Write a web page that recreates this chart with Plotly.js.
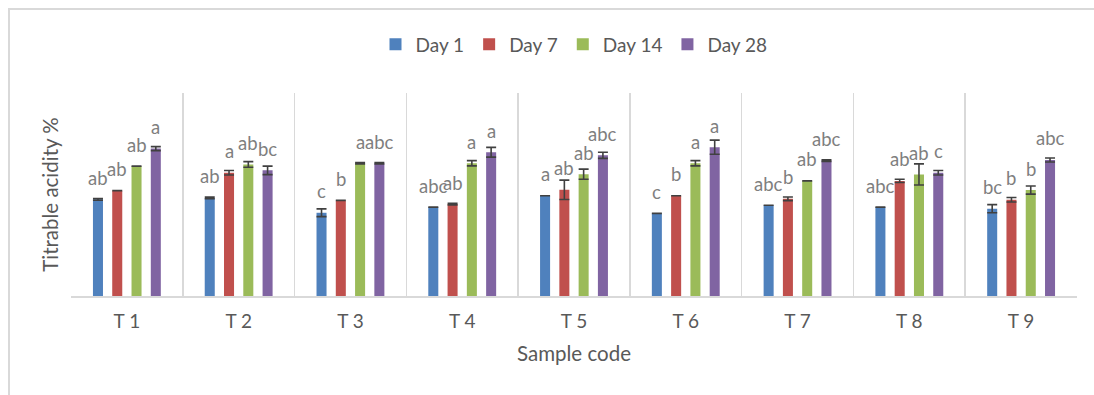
<!DOCTYPE html>
<html>
<head>
<meta charset="utf-8">
<script src="https://cdn.plot.ly/plotly-3.0.1.min.js"></script>
<style>
  html, body { margin: 0; padding: 0; background: #ffffff; }
  #wrap { position: relative; width: 1094px; height: 395px; overflow: hidden; }
  #chart { position: absolute; left: 0; top: 0; width: 1094px; height: 395px; }
  #frame { position: absolute; left: 8px; top: 8px; width: 1200px; height: 500px;
           border-left: 2px solid #d9d9d9; border-top: 2px solid #d9d9d9; pointer-events: none; }
</style>
</head>
<body>
<div id="wrap">
  <div id="chart"></div>
  <div id="frame"></div>
</div>
<script>
// ---- data ----
const categories = ["T 1", "T 2", "T 3", "T 4", "T 5", "T 6", "T 7", "T 8", "T 9"];
const seriesNames = ["Day 1", "Day 7", "Day 14", "Day 28"];

const day1  = [0.476, 0.483, 0.410, 0.438, 0.494, 0.407, 0.447, 0.438, 0.430];
const day7  = [0.519, 0.607, 0.471, 0.453, 0.523, 0.494, 0.479, 0.567, 0.474];
const day14 = [0.640, 0.648, 0.654, 0.654, 0.600, 0.654, 0.567, 0.599, 0.522];
const day28 = [0.726, 0.619, 0.654, 0.708, 0.693, 0.733, 0.667, 0.607, 0.670];

const err1  = [0.004, 0.004, 0.019, null,  null,  null,  null,  null,  0.020];
const err7  = [null,  0.011, null,  0.004, 0.048, null,  0.009, 0.008, 0.011];
const err14 = [null,  0.014, 0.004, 0.013, 0.025, 0.013, null,  0.052, 0.020];
const err28 = [0.010, 0.021, 0.004, 0.024, 0.015, 0.035, 0.004, 0.011, 0.010];

const letters1  = ["ab", "ab", "c",  "abc", "a",  "c", "abc", "abc", "bc"];
const letters7  = ["ab", "a",  "b",  "ab",  "ab", "b", "b",   "ab",  "b"];
const letters14 = ["ab", "ab", "a",  "a",   "ab", "a", "ab",  "ab",  "b"];
const letters28 = ["a",  "bc", "abc","a",   "abc","a", "abc", "c",   "abc"];

const colors = ["#4F81BD", "#C0504D", "#9BBB59", "#8064A2"];
const values = [day1, day7, day14, day28];
const errors = [err1, err7, err14, err28];
const letters = [letters1, letters7, letters14, letters28];

// ---- layout constants ----
const W = 1094, H = 395;
const M = {l: 71, r: 17, t: 93, b: 99};
const bargap = 0.31, bargroupgap = 0.48;
const FONT = "Lato, 'Open Sans', sans-serif";

const traces = values.map((v, i) => ({
  type: "bar",
  name: seriesNames[i],
  x: categories,
  y: v,
  marker: {color: colors[i]},
  error_y: {
    type: "data", array: errors[i], visible: true,
    color: "#404040", thickness: 1.6, width: 5
  },
  hoverinfo: "none"
}));

const plotW = W - M.l - M.r;
const slot = (plotW / categories.length) * (1 - bargap) / values.length;
const annotations = [];
values.forEach((v, i) => {
  v.forEach((val, j) => {
    annotations.push({
      x: categories[j], y: val, xref: "x", yref: "y",
      text: letters[i][j], showarrow: false,
      xshift: (i - (values.length - 1) / 2) * slot,
      yshift: 21.5, yanchor: "middle", xanchor: "center",
      font: {family: FONT, size: 18.5, color: "#7f7f7f"}
    });
  });
});

const layout = {
  width: W, height: H,
  margin: M,
  paper_bgcolor: "#ffffff", plot_bgcolor: "#ffffff",
  barmode: "group", bargap: bargap, bargroupgap: bargroupgap,
  font: {family: FONT, color: "#595959"},
  showlegend: true,
  legend: {
    orientation: "h", x: 0.5, xanchor: "center", y: 1.24, yanchor: "middle",
    font: {family: FONT, size: 19, color: "#595959"}, bgcolor: "rgba(0,0,0,0)"
  },
  xaxis: {
    type: "category", tickson: "boundaries", showgrid: true,
    gridcolor: "#d9d9d9", gridwidth: 1.5,
    showline: true, linecolor: "#d9d9d9", linewidth: 2,
    ticks: "", tickfont: {family: FONT, size: 19, color: "#595959"},
    ticklabelstandoff: 7,
    automargin: true,
    title: {text: "Sample code", font: {family: FONT, size: 20.5, color: "#595959"}, standoff: 16},
    fixedrange: true
  },
  yaxis: {
    range: [0, 1], showgrid: false, zeroline: false, showline: false,
    showticklabels: false, ticks: "",
    automargin: true,
    title: {text: "Titrable acidity %", font: {family: FONT, size: 20.5, color: "#595959"}, standoff: 5},
    fixedrange: true
  },
  annotations: annotations
};

Plotly.newPlot("chart", traces, layout, {displayModeBar: false, staticPlot: true});
</script>
</body>
</html>
